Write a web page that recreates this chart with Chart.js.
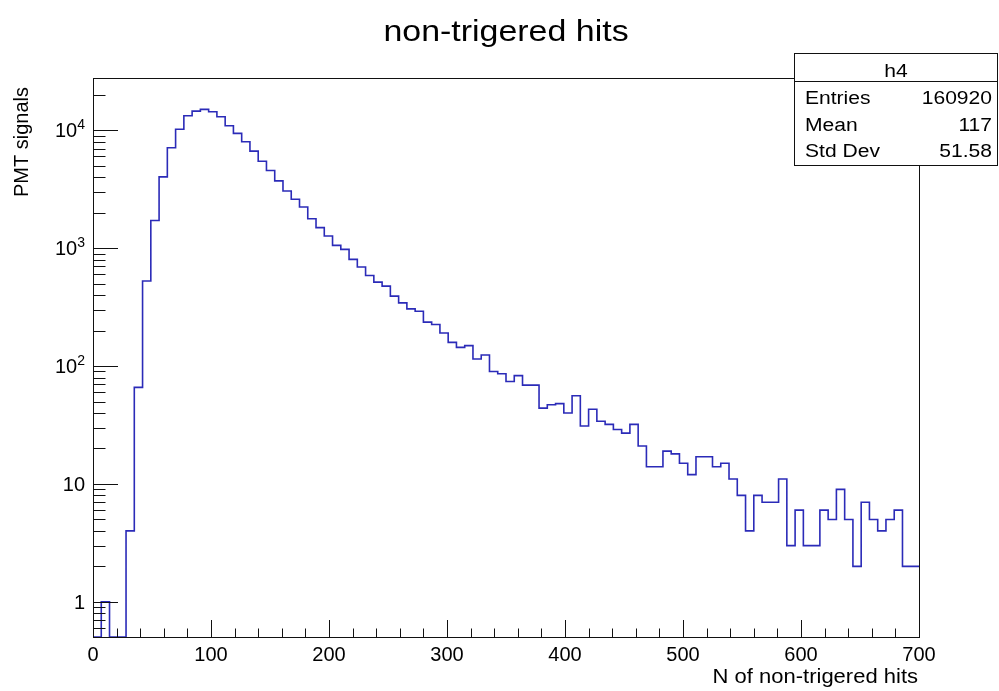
<!DOCTYPE html>
<html>
<head>
<meta charset="utf-8">
<script src="https://cdn.jsdelivr.net/npm/chart.js@4.4.1/dist/chart.umd.min.js"></script>
<style>
  html, body { margin: 0; padding: 0; background: #fff; }
  canvas { display: block; }
</style>
</head>
<body>
<canvas id="histChart" width="999" height="691"></canvas>
<script>
// left edges of the 100 bins (width 7) plus the upper edge 700
const binEdges = [
  0, 7, 14, 21, 28, 35, 42, 49, 56, 63, 70, 77, 84, 91, 98, 105, 112, 119, 126, 133,
  140, 147, 154, 161, 168, 175, 182, 189, 196, 203, 210, 217, 224, 231, 238, 245, 252, 259, 266, 273,
  280, 287, 294, 301, 308, 315, 322, 329, 336, 343, 350, 357, 364, 371, 378, 385, 392, 399, 406, 413,
  420, 427, 434, 441, 448, 455, 462, 469, 476, 483, 490, 497, 504, 511, 518, 525, 532, 539, 546, 553,
  560, 567, 574, 581, 588, 595, 602, 609, 616, 623, 630, 637, 644, 651, 658, 665, 672, 679, 686, 693,
  700
];
// bin contents
const counts = [
  0, 1, 0, 0, 4, 66, 527, 1720, 4030, 7110,
  10230, 13300, 14550, 15060, 14390, 13050, 10940, 9420, 8000, 6660,
  5470, 4560, 3725, 3060, 2600, 2240, 1780, 1494, 1270, 1057,
  978, 804, 692, 587, 516, 477, 392, 344, 306, 292,
  236, 225, 191, 159, 144, 149, 115, 124, 90, 86,
  74, 83, 69, 69, 44, 47, 48, 40, 56, 31,
  43, 34, 32, 29, 27, 32, 21, 14, 14, 19,
  18, 15, 12, 17, 17, 14, 15, 11, 8, 4,
  8, 7, 7, 11, 3, 6, 3, 3, 6, 5,
  9, 5, 2, 7, 5, 4, 5, 6, 2, 2
];
const xTickLabels = ['0', '100', '200', '300', '400', '500', '600', '700'];
const yTickValues = [1, 10, 100, 1000, 10000];
const yTickBase = ['1', '10', '10', '10', '10'];
const yTickExp = ['', '', '2', '3', '4'];
const statNames = ['Entries', 'Mean', 'Std Dev'];
const statValues = ['160920', '117', '51.58'];

const FONT = '"Liberation Sans", Arial, Helvetica, sans-serif';

function txt(ctx, s, x, y, size, align, sx) {
  ctx.save();
  ctx.translate(x, y);
  ctx.scale(sx || 1, 1);
  ctx.font = size + 'px ' + FONT;
  ctx.textAlign = align;
  ctx.textBaseline = 'alphabetic';
  ctx.fillStyle = '#000';
  ctx.fillText(s, 0, 0);
  ctx.restore();
}

const rootFrame = {
  id: 'rootFrame',
  afterDraw(chart) {
    const ctx = chart.ctx;
    const xs = chart.scales.x, ys = chart.scales.y;
    const a = chart.chartArea;
    ctx.save();
    ctx.strokeStyle = '#111';
    ctx.lineWidth = 1;
    // frame
    ctx.strokeRect(Math.round(a.left) + 0.5, Math.round(a.top) + 0.5,
      Math.round(a.right - a.left), Math.round(a.bottom - a.top));
    // x ticks, pointing up into the frame
    ctx.beginPath();
    for (let v = 0; v <= 700; v += 20) {
      const px = Math.round(xs.getPixelForValue(v)) + 0.5;
      const len = v % 100 === 0 ? 17 : 8.5;
      ctx.moveTo(px, a.bottom);
      ctx.lineTo(px, a.bottom - len);
    }
    // y ticks, pointing right
    for (let d = -1; d <= 4; d++) {
      for (let k = 1; k <= 9; k++) {
        const v = k * Math.pow(10, d);
        if (v < ys.min || v > ys.max) continue;
        const py = Math.round(ys.getPixelForValue(v)) + 0.5;
        const len = k === 1 ? 25 : 12.5;
        ctx.moveTo(a.left, py);
        ctx.lineTo(a.left + len, py);
      }
    }
    ctx.stroke();

    // x tick labels
    xTickLabels.forEach(l => {
      txt(ctx, l, xs.getPixelForValue(Number(l)), 661, 20, 'center');
    });
    // y tick labels with exponents
    yTickValues.forEach((v, i) => {
      const py = ys.getPixelForValue(v);
      const right = 85;
      if (yTickExp[i]) {
        ctx.font = '14px ' + FONT;
        const ew = ctx.measureText(yTickExp[i]).width;
        txt(ctx, yTickExp[i], right, py - 1, 14, 'right');
        txt(ctx, yTickBase[i], right - ew, py + 7, 20, 'right');
      } else {
        txt(ctx, yTickBase[i], right, py + 7, 20, 'right');
      }
    });

    // titles
    txt(ctx, 'non-trigered hits', 506, 41, 29, 'center', 1.17);
    txt(ctx, 'N of non-trigered hits', 918, 683, 20, 'right', 1.1);
    ctx.save();
    ctx.translate(28, 87);
    ctx.rotate(-Math.PI / 2);
    txt(ctx, 'PMT signals', 0, 0, 20, 'right', 1.0);
    ctx.restore();

    // stats box
    const bx = 794.5, by = 53.5, bw = 203, bh = 112;
    ctx.fillStyle = '#fff';
    ctx.fillRect(bx, by, bw, bh);
    ctx.strokeStyle = '#111';
    ctx.strokeRect(bx, by, bw, bh);
    ctx.beginPath();
    ctx.moveTo(bx, 81.5);
    ctx.lineTo(bx + bw, 81.5);
    ctx.stroke();
    txt(ctx, 'h4', bx + bw / 2, 77, 18, 'center', 1.17);
    const rows = [104, 130.5, 157];
    statNames.forEach((n, i) => {
      txt(ctx, n, 805, rows[i], 18, 'left', 1.17);
      txt(ctx, statValues[i], 992, rows[i], 18, 'right', 1.17);
    });
    ctx.restore();
  }
};

const points = binEdges.map((x, i) => ({ x: x, y: counts[Math.min(i, counts.length - 1)] }));

new Chart(document.getElementById('histChart').getContext('2d'), {
  type: 'line',
  data: {
    datasets: [{
      label: 'h4',
      data: points,
      parsing: false,
      stepped: 'before',
      borderColor: '#2b2bb8',
      borderWidth: 1.6,
      pointRadius: 0,
      fill: false
    }]
  },
  options: {
    responsive: false,
    animation: false,
    layout: { padding: { left: 93, right: 80, top: 78, bottom: 54 } },
    plugins: { legend: { display: false }, tooltip: { enabled: false } },
    scales: {
      x: { type: 'linear', min: 0, max: 700, display: false },
      y: { type: 'logarithmic', min: 0.503, max: 27800, display: false }
    }
  },
  plugins: [rootFrame]
});
</script>
</body>
</html>
